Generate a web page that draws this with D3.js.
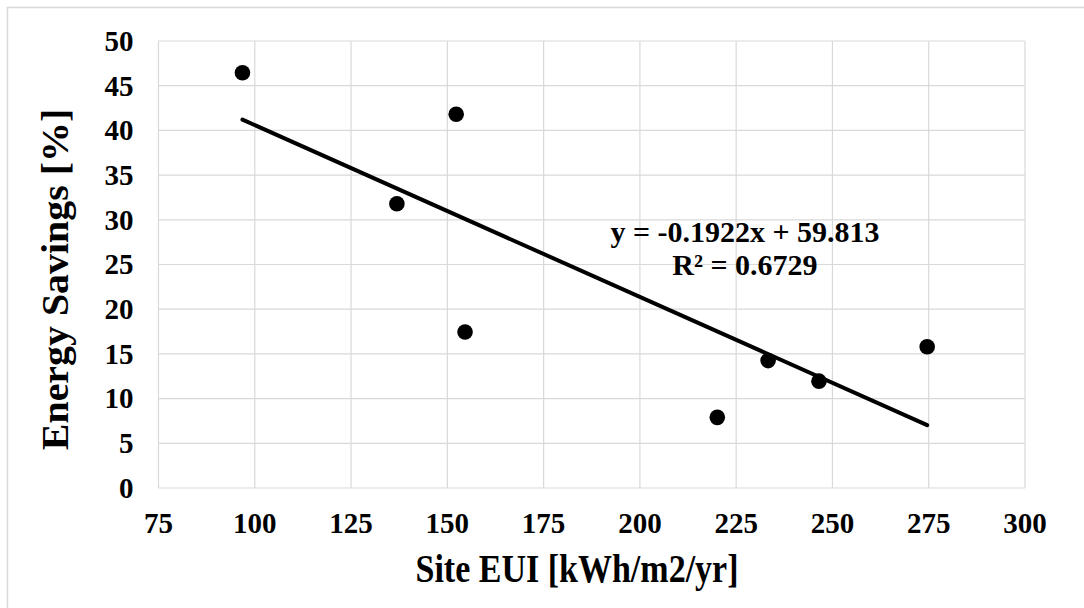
<!DOCTYPE html>
<html lang="en">
<head>
  <meta charset="UTF-8">
  <title>Energy Savings vs Site EUI</title>
  <script src="https://d3js.org/d3.v7.min.js"></script>
  <style>
    body { margin: 0; background: #fff; }
    svg { display: block; }
  </style>
</head>
<body>
  <svg></svg>

  <script>
    // data
    const siteEUI = [96.8, 152.3, 136.9, 154.6, 220.1, 233.3, 246.5, 274.6];
    const savings = [46.45, 41.8, 31.8, 17.45, 7.9, 14.25, 11.95, 15.8];
    const xTicks = [75, 100, 125, 150, 175, 200, 225, 250, 275, 300];
    const yTicks = [0, 5, 10, 15, 20, 25, 30, 35, 40, 45, 50];
    // linear trendline shown on the chart
    const trend = { slope: -0.1922, intercept: 59.813 };
    const trendLabel = ['y = -0.1922x + 59.813', 'R² = 0.6729'];

    const width = 1084, height = 608;
    const margin = { top: 41, right: 59, bottom: 120, left: 158.5 };
    const serif = "'Liberation Serif', Tinos, 'Times New Roman', 'DejaVu Serif', serif";

    const svg = d3.select('svg')
      .attr('width', width)
      .attr('height', height)
      .attr('font-family', serif)
      .attr('font-weight', 'bold');

    // outer chart frame (runs off the right and bottom edges)
    svg.append('rect')
      .attr('x', 7.5).attr('y', 7.5)
      .attr('width', width + 20).attr('height', height + 20)
      .attr('fill', 'none')
      .attr('stroke', '#d9d9d9')
      .attr('stroke-width', 1.5);

    const x = d3.scaleLinear()
      .domain([75, 300])
      .range([margin.left, width - margin.right]);

    const y = d3.scaleLinear()
      .domain([0, 50])
      .range([height - margin.bottom, margin.top]);

    // gridlines
    svg.append('g')
      .selectAll('line')
      .data(xTicks)
      .join('line')
      .attr('x1', d => x(d)).attr('x2', d => x(d))
      .attr('y1', y(0)).attr('y2', y(50))
      .attr('stroke', '#d9d9d9').attr('stroke-width', 1.2);

    svg.append('g')
      .selectAll('line')
      .data(yTicks)
      .join('line')
      .attr('x1', x(75)).attr('x2', x(300))
      .attr('y1', d => y(d)).attr('y2', d => y(d))
      .attr('stroke', '#d9d9d9').attr('stroke-width', 1.2);

    // tick labels
    svg.append('g')
      .selectAll('text')
      .data(xTicks)
      .join('text')
      .attr('x', d => x(d))
      .attr('y', y(0) + 45)
      .attr('text-anchor', 'middle')
      .style('font-size', '29px')
      .text(d => d);

    svg.append('g')
      .selectAll('text')
      .data(yTicks)
      .join('text')
      .attr('x', x(75) - 25)
      .attr('y', d => y(d))
      .attr('dy', '0.34em')
      .attr('text-anchor', 'end')
      .style('font-size', '29px')
      .text(d => d);

    // axis titles (slightly stretched like the source picture)
    svg.append('text')
      .attr('transform', 'translate(577,582) scale(1,1.17)')
      .attr('text-anchor', 'middle')
      .style('font-size', '34px')
      .text('Site EUI [kWh/m2/yr]');

    svg.append('text')
      .attr('transform', 'translate(68,279.5) rotate(-90) scale(1.05,1)')
      .attr('text-anchor', 'middle')
      .style('font-size', '38px')
      .text('Energy Savings [%]');

    // trendline over the data range
    const xExt = d3.extent(siteEUI);
    svg.append('line')
      .attr('x1', x(xExt[0])).attr('y1', y(trend.slope * xExt[0] + trend.intercept))
      .attr('x2', x(xExt[1])).attr('y2', y(trend.slope * xExt[1] + trend.intercept))
      .attr('stroke', '#000')
      .attr('stroke-width', 4)
      .attr('stroke-linecap', 'round');

    // points
    svg.append('g')
      .selectAll('circle')
      .data(siteEUI.map((v, i) => ({ x: v, y: savings[i] })))
      .join('circle')
      .attr('cx', d => x(d.x))
      .attr('cy', d => y(d.y))
      .attr('r', 7.8)
      .attr('fill', '#000');

    // equation label
    svg.append('g')
      .selectAll('text')
      .data(trendLabel)
      .join('text')
      .attr('x', 745)
      .attr('y', (d, i) => 242 + i * 33)
      .attr('text-anchor', 'middle')
      .style('font-size', '30px')
      .text(d => d);
  </script>
</body>
</html>
